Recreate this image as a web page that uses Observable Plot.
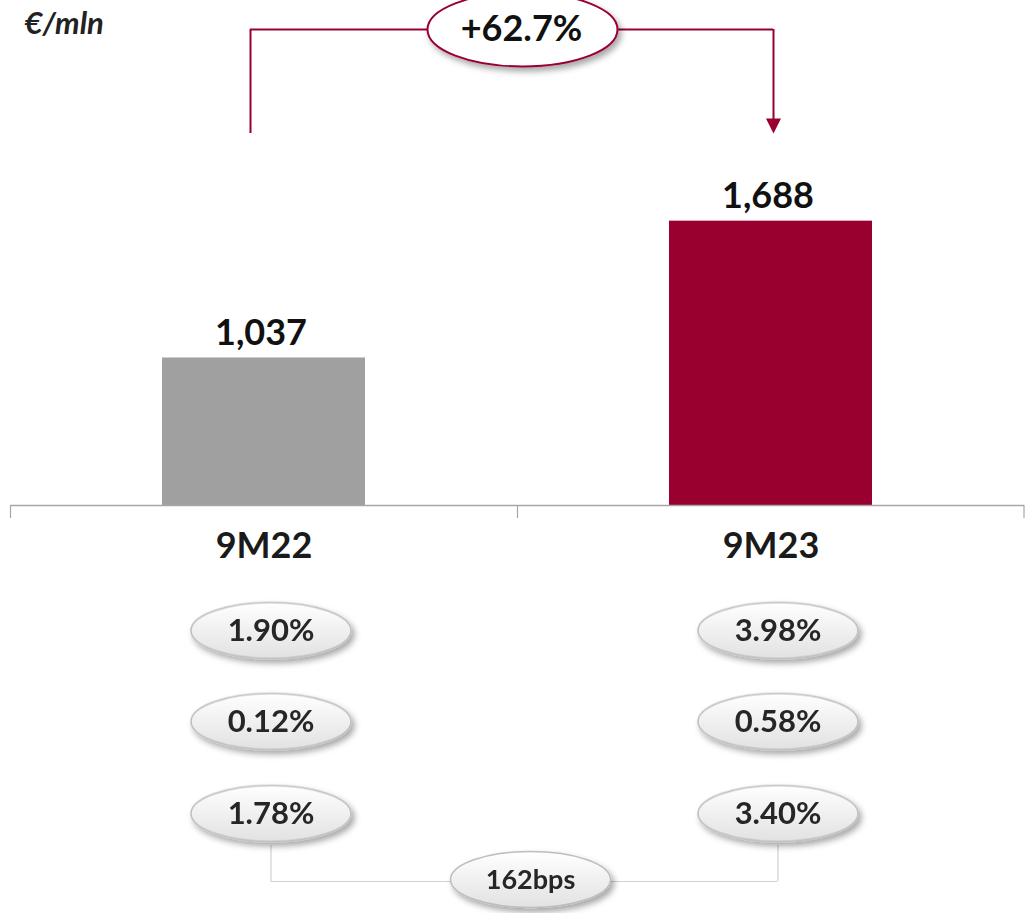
<!DOCTYPE html>
<html>
<head>
<meta charset="utf-8">
<script src="https://cdn.jsdelivr.net/npm/d3@7"></script>
<script src="https://cdn.jsdelivr.net/npm/@observablehq/plot@0.6"></script>
<style>
  html, body { margin: 0; padding: 0; background: #fff; }
  #chart svg { display: block; }
</style>
</head>
<body>
<div id="chart"></div>
<script>
// ---- data ----
const periods = ["9M22", "9M23"];
const revenue = [1037, 1688];
const barColors = ["#a0a0a0", "#990030"];
const ratioRow1 = [1.90, 3.98];
const ratioRow2 = [0.12, 0.58];
const ratioRow3 = [1.78, 3.40];
const growthPct = 62.7;
const spreadBps = 162;
const unitLabel = "€/mln";

// ---- layout ----
const crimson = "#990030";
const yBase = 335, yTop = 2600;
const bars = periods.map((p, i) => ({period: p, value: revenue[i]}));
const rowData = r => periods.map((p, i) => ({period: p, v: r[i]}));

function ellipse(rx, ry) {
  const k = 0.5523;
  return {draw(ctx) {
    ctx.moveTo(rx, 0);
    ctx.bezierCurveTo(rx, ry * k, rx * k, ry, 0, ry);
    ctx.bezierCurveTo(-rx * k, ry, -rx, ry * k, -rx, 0);
    ctx.bezierCurveTo(-rx, -ry * k, -rx * k, -ry, 0, -ry);
    ctx.bezierCurveTo(rx * k, -ry, rx, -ry * k, rx, 0);
    ctx.closePath();
  }};
}
const triDown = {draw(ctx) {
  ctx.moveTo(-7.5, -7.5); ctx.lineTo(7.5, -7.5); ctx.lineTo(0, 7.5); ctx.closePath();
}};
const pill = ellipse(80, 28);
const pctFmt = v => v.toFixed(2) + "%";
const rowOffsets = [126, 217, 309];
const rows = [ratioRow1, ratioRow2, ratioRow3];

const pillMarks = rows.flatMap((r, k) => [
  Plot.dot(rowData(r), {x: "period", frameAnchor: "bottom", dx: 7, dy: rowOffsets[k] - 1,
    symbol: pill, fill: "url(#pillGrad)", stroke: "#bdbdbd", strokeWidth: 1.5, ariaDescription: "pill"}),
  Plot.text(rowData(r), {x: "period", text: d => pctFmt(d.v), frameAnchor: "bottom", lineAnchor: "middle",
    dx: 7, dy: rowOffsets[k], fontSize: 31, fontWeight: 700, fill: "#262626"})
]);

const chart = Plot.plot({
  width: 1030, height: 913,
  marginLeft: 10, marginRight: 6, marginTop: 29, marginBottom: 408,
  x: {type: "band", domain: periods, padding: 0, axis: null},
  y: {domain: [yBase, yTop], axis: null},
  color: {domain: periods, range: barColors},
  style: {fontFamily: "Lato, 'Open Sans', sans-serif", background: "white", overflow: "visible"},
  marks: [
    // bars
    Plot.barY(bars, {x: "period", y1: d => yBase, y2: "value", fill: "period", insetLeft: 152, insetRight: 152}),
    // axis
    Plot.ruleY([yBase], {stroke: "#a6a6a6", strokeWidth: 1.5}),
    Plot.ruleX(periods, {x: d => d, dx: -253.5, insetTop: 476, insetBottom: -13, stroke: "#a6a6a6", strokeWidth: 1.2}),
    Plot.ruleX([periods[1]], {x: d => d, dx: 253, insetTop: 476, insetBottom: -13, stroke: "#a6a6a6", strokeWidth: 1.2}),
    // value labels
    Plot.text(bars, {x: "period", y: "value", text: d => d3.format(",")(d.value), lineAnchor: "bottom", dy: -13, dx: -3,
      fontSize: 36, fontWeight: 700, fill: "#111"}),
    // category labels
    Plot.text(periods, {x: d => d, text: d => d, frameAnchor: "bottom", lineAnchor: "bottom", dy: 52,
      fontSize: 36, fontWeight: 700, fill: "#1a1a1a"}),
    // bottom bracket
    Plot.ruleX(periods, {x: d => d, dx: 7, insetTop: 816, insetBottom: -376, stroke: "#d0d0d0", strokeWidth: 1.2}),
    Plot.ruleY([yBase], {dy: 376, insetLeft: 260.5, insetRight: 246.5, stroke: "#d0d0d0", strokeWidth: 1.2}),
    ...pillMarks,
    Plot.dot([spreadBps], {frameAnchor: "bottom", dx: 13, dy: 374, symbol: pill,
      fill: "url(#pillGrad)", stroke: "#bdbdbd", strokeWidth: 1.5, ariaDescription: "pill"}),
    Plot.text([spreadBps], {frameAnchor: "bottom", lineAnchor: "middle", dx: 13, dy: 375, text: d => d + "bps",
      fontSize: 27, fontWeight: 700, fill: "#262626"}),
    // top bracket
    Plot.ruleX([periods[0]], {x: d => d, dx: -13.5, insetBottom: 372, stroke: crimson, strokeWidth: 2}),
    Plot.ruleX([periods[1]], {x: d => d, dx: 2.5, insetBottom: 385, stroke: crimson, strokeWidth: 2}),
    Plot.ruleY([yTop], {insetLeft: 240, insetRight: 251, stroke: crimson, strokeWidth: 2}),
    Plot.dot([periods[1]], {x: d => d, dx: 2.5, frameAnchor: "top", dy: 96.5, symbol: triDown, fill: crimson, stroke: "none"}),
    Plot.dot([growthPct], {frameAnchor: "top", dx: 5, symbol: ellipse(95, 37), fill: "white", stroke: crimson,
      strokeWidth: 2, ariaDescription: "pill"}),
    Plot.text([growthPct], {frameAnchor: "top", lineAnchor: "middle", dx: 4, dy: 0, text: d => "+" + d.toFixed(1) + "%",
      fontSize: 36, fontWeight: 700, fill: "#111"}),
    // unit label
    Plot.text([unitLabel], {text: d => d, frameAnchor: "top-left", textAnchor: "start", lineAnchor: "bottom",
      dx: 14, dy: 4, fontSize: 31, fontWeight: 700, fontStyle: "italic", fill: "#222"})
  ]
});

const svg = d3.select(chart);
svg.insert("defs", ":first-child").html(
  '<filter id="shadow" x="-30%" y="-30%" width="170%" height="190%">' +
  '<feDropShadow dx="3" dy="4" stdDeviation="3" flood-color="#000" flood-opacity="0.35"/></filter>' +
  '<linearGradient id="pillGrad" x1="0" y1="0" x2="0" y2="1">' +
  '<stop offset="0" stop-color="#ffffff"/><stop offset="1" stop-color="#e2e2e2"/></linearGradient>'
);
svg.selectAll('g[aria-description="pill"]').attr("filter", "url(#shadow)");
document.getElementById("chart").appendChild(chart);
</script>
</body>
</html>
